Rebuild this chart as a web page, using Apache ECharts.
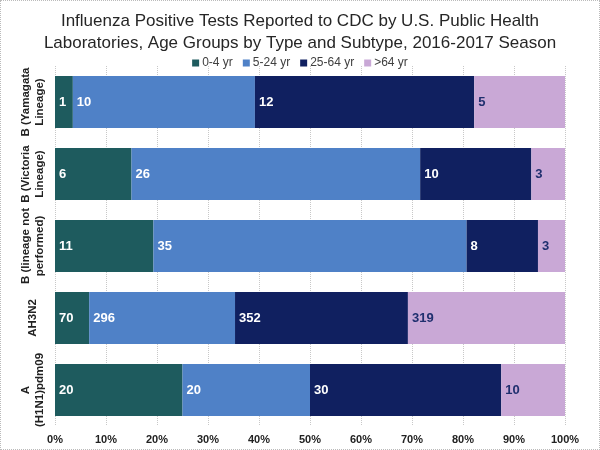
<!DOCTYPE html>
<html>
<head>
<meta charset="utf-8">
<script src="https://cdn.jsdelivr.net/npm/echarts@6/dist/echarts.min.js"></script>
<style>
  html, body { margin: 0; padding: 0; background: #fff; }
  #chart { width: 600px; height: 450px; box-sizing: border-box; border: 1px dotted #bbb; }
</style>
</head>
<body>
<div id="chart"></div>
<script>
const categories = [
  "A\n(H1N1)pdm09",
  "AH3N2",
  "B (lineage not\nperformed)",
  "B (Victoria\nLineage)",
  "B (Yamagata\nLineage)",
];
const seriesNames = ["0-4 yr", "5-24 yr", "25-64 yr", ">64 yr"];
const seriesColors = ["#1e5b5e", "#4f81c7", "#102060", "#c9a8d6"];
const labelColors = ["#ffffff", "#ffffff", "#ffffff", "#1f2f6e"];

// share of each bar (percent)
const pct0to4 = [25.0, 6.7, 19.3, 15.0, 3.5];
const pct5to24 = [25.0, 28.6, 61.4, 56.6, 35.7];
const pct25to64 = [37.5, 33.9, 14.0, 21.8, 43.0];
const pctOver64 = [12.5, 30.8, 5.3, 6.6, 17.8];

// counts printed on the segments
const count0to4 = [20, 70, 11, 6, 1];
const count5to24 = [20, 296, 35, 26, 10];
const count25to64 = [30, 352, 8, 10, 12];
const countOver64 = [10, 319, 3, 3, 5];

function buildSeries(index, pct, counts) {
  return {
    name: seriesNames[index],
    type: "bar",
    stack: "total",
    barCategoryGap: "28%",
    itemStyle: { color: seriesColors[index] },
    label: {
      show: true,
      position: "insideLeft",
      distance: 4,
      color: labelColors[index],
      fontWeight: "bold",
      fontSize: 13,
      fontFamily: "Liberation Sans, Arial, sans-serif",
      formatter: (p) => counts[p.dataIndex],
    },
    data: pct,
  };
}

const chart = echarts.init(document.getElementById("chart"));
chart.setOption({
  animation: false,
  textStyle: { fontFamily: "Liberation Sans, Arial, sans-serif" },
  title: {
    text: "Influenza Positive Tests Reported to CDC by U.S. Public Health\nLaboratories, Age Groups by Type and Subtype, 2016-2017 Season",
    left: "center",
    top: 4,
    textStyle: { fontSize: 17, fontWeight: "normal", color: "#262626", lineHeight: 22 },
  },
  legend: {
    top: 51,
    left: "center",
    itemWidth: 7,
    itemHeight: 7,
    itemGap: 10,
    icon: "rect",
    textStyle: { fontSize: 12, color: "#404040", padding: [0, 0, 0, -2] },
    data: seriesNames,
  },
  grid: { left: 54, right: 34, top: 65, bottom: 23, containLabel: false },
  xAxis: {
    type: "value",
    min: 0,
    max: 100,
    interval: 10,
    axisLine: { show: false },
    axisTick: { show: false },
    splitLine: { show: true, lineStyle: { color: "#c8c8c8", type: "dotted" } },
    axisLabel: {
      formatter: "{value}%",
      fontWeight: "bold",
      fontSize: 11,
      color: "#222",
      margin: 8,
    },
  },
  yAxis: {
    type: "category",
    data: categories,
    axisLine: { show: false },
    axisTick: { show: false },
    axisLabel: {
      interval: 0,
      rotate: 90,
      fontWeight: "bold",
      fontSize: 11.5,
      color: "#222",
      lineHeight: 14,
      align: "center",
      verticalAlign: "middle",
      margin: 22,
    },
  },
  series: [
    buildSeries(0, pct0to4, count0to4),
    buildSeries(1, pct5to24, count5to24),
    buildSeries(2, pct25to64, count25to64),
    buildSeries(3, pctOver64, countOver64),
  ],
});
</script>
</body>
</html>
